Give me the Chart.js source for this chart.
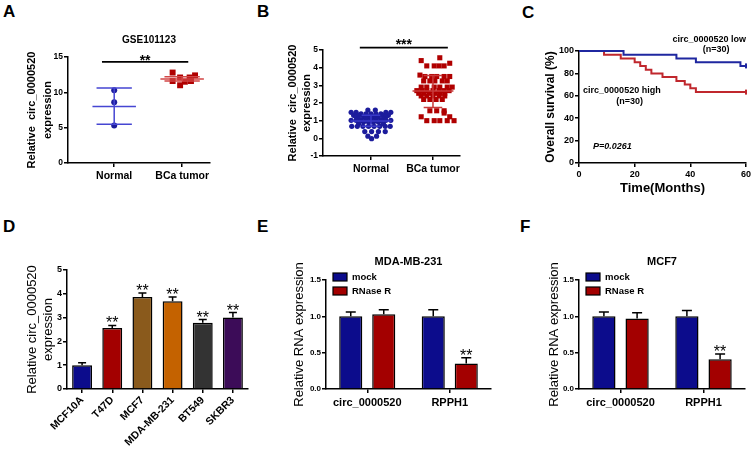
<!DOCTYPE html>
<html>
<head>
<meta charset="utf-8">
<script src="https://cdn.jsdelivr.net/npm/chart.js@4.4.0/dist/chart.umd.min.js"></script>
<style>
body{margin:0;background:#fff;width:753px;height:454px;position:relative;overflow:hidden;font-family:"Liberation Sans",Arial,sans-serif}
canvas{position:absolute}
.lab{position:absolute;font-weight:bold;font-size:17px;line-height:20px;color:#000}
</style>
</head>
<body>
<div class="lab" style="left:3px;top:2px">A</div>
<div class="lab" style="left:257px;top:2px">B</div>
<div class="lab" style="left:522px;top:3px">C</div>
<div class="lab" style="left:3px;top:217px">D</div>
<div class="lab" style="left:257px;top:217px">E</div>
<div class="lab" style="left:520px;top:217px">F</div>
<canvas id="cA"></canvas>
<canvas id="cB"></canvas>
<canvas id="cC"></canvas>
<canvas id="cD"></canvas>
<canvas id="cE"></canvas>
<canvas id="cF"></canvas>
<script>
var FONT = '"Liberation Sans", Arial, sans-serif';
Chart.defaults.font.family = FONT;
Chart.defaults.color = '#000';

// ---- data ----
var groups = ['Normal', 'BCa tumor'];

// A: GSE101123
var normalA = [10.3, 8.6, 5.3];
var normalAJitter = [0, 0, 0];
var tumorA = [12.8, 12.1, 12.1, 12.4, 11.6, 11.5, 11.6, 11.0];
var tumorAJitter = [-0.14, -0.03, 0.11, 0.19, -0.14, 0.04, 0.13, -0.03];
var meanA = [8.0, 11.9];
var sdA = [[5.5, 10.6], [11.6, 12.2]];

// B: cohort
var normalB = [1.6, 1.6, 1.47, 1.47, 1.47, 1.47, 1.38, 1.38, 1.38, 1.38, 1.38,
  1.3, 1.3, 1.3, 1.3, 1.22, 1.22, 1.22, 1.22, 1.22, 1.22, 1.12, 1.12, 1.12, 1.12, 1.12,
  1.02, 1.02, 1.02, 1.02, 1.02, 1.02, 1.02, 1.02, 1.02, 0.92, 0.92, 0.92, 0.92, 0.82, 0.82,
  0.68, 0.68, 0.68, 0.68, 0.68, 0.68, 0.68, 0.68, 0.38, 0.38, 0.38, 0.38, 0.12, 0.12, -0.02];
var normalBJitter = [-0.05, 0.07, -0.32, -0.24, 0.24, 0.32, -0.16, -0.08, 0, 0.08, 0.16,
  -0.28, -0.2, 0.2, 0.28, -0.24, -0.12, -0.04, 0.04, 0.12, 0.24, -0.2, -0.08, 0, 0.08, 0.2,
  -0.32, -0.24, -0.16, -0.08, 0, 0.08, 0.16, 0.24, 0.32, -0.12, -0.04, 0.04, 0.12, -0.2, 0.2,
  -0.31, -0.22, -0.13, -0.04, 0.05, 0.14, 0.23, 0.31, -0.1, 0.01, 0.12, 0.23, -0.05, 0.09, 0.01];
var tumorB = [4.56, 4.4, 4.25, 4.1, 4.1, 4.1, 4.1, 3.58, 3.5, 3.5, 3.5, 3.5, 3.5,
  3.25, 3.25, 3.25, 3.25, 3.25, 2.9, 2.9, 2.9, 2.9, 2.9, 2.9,
  2.7, 2.7, 2.7, 2.7, 2.7, 2.7, 2.7, 2.55, 2.55, 2.55, 2.55, 2.55, 2.55,
  2.4, 2.4, 2.4, 2.4, 2.4, 2.2, 2.2, 2.2, 2.2, 1.56, 1.56, 1.56, 1.43, 1.22, 1.22,
  1.0, 1.0, 1.0, 1.0, 1.0];
var tumorBJitter = [0.11, -0.19, 0.27, -0.1, 0.02, 0.1, 0.18, -0.21, -0.13, -0.02, 0.06, 0.18, 0.27,
  -0.15, -0.05, 0.03, 0.15, 0.23, -0.19, -0.1, 0.02, 0.11, 0.23, 0.31,
  -0.26, -0.18, -0.1, 0, 0.1, 0.18, 0.26, -0.23, -0.15, -0.06, 0.03, 0.11, 0.19,
  -0.19, -0.1, 0, 0.1, 0.19, -0.15, -0.05, 0.05, 0.15, -0.05, 0.06, 0.18, 0.18, -0.19, 0.27,
  -0.1, 0.02, 0.11, 0.23, 0.34];
var meanB = [0.98, 2.68];
var sdB = [[0.68, 1.3], [1.75, 3.55]];

// C: survival
var lowTime = [0, 16, 35, 42, 58, 60];
var lowSurv = [100, 96.7, 93.3, 90, 86.7, 86.7];
var highTime = [0, 9, 15, 20, 22, 24, 26, 30, 35, 38, 40, 42, 60];
var highSurv = [100, 96.7, 93.3, 90, 86.7, 83.3, 80, 76.7, 73.3, 70, 66.7, 63.3, 63.3];

// D: cell lines
var cells = ['MCF10A', 'T47D', 'MCF7', 'MDA-MB-231', 'BT549', 'SKBR3'];
var cellValues = [1.0, 2.56, 3.87, 3.69, 2.78, 3.0];
var cellSd = [0.1, 0.11, 0.16, 0.18, 0.14, 0.21];
var cellColors = ['#0c0c8c', '#a30000', '#8a5a1c', '#c46200', '#333333', '#3c0c58'];
var cellStars = ['', '**', '**', '**', '**', '**'];

// E / F: RNase R
var genes = ['circ_0000520', 'RPPH1'];
var mockE = [1.0, 1.0], mockESd = [0.06, 0.09];
var rnaseE = [1.03, 0.35], rnaseESd = [0.06, 0.08];
var mockF = [1.0, 1.0], mockFSd = [0.06, 0.08];
var rnaseF = [0.97, 0.41], rnaseFSd = [0.08, 0.07];
var geneStars = ['', '**'];

var BLUE = '#0c0c8c', RED = '#a30000';

// ---- helpers ----
function setup(id, box, area, cfg) {
  var cv = document.getElementById(id);
  cv.style.left = box[0] + 'px';
  cv.style.top = box[1] + 'px';
  cv.width = box[2];
  cv.height = box[3];
  cfg.options.responsive = false;
  cfg.options.animation = false;
  cfg.options.layout = {padding: {left: 0, top: area[1] - box[1], right: box[0] + box[2] - area[2], bottom: 0}};
  cfg.options.scales.x.afterFit = function (s) { s.height = box[1] + box[3] - area[3]; };
  cfg.options.scales.y.afterFit = function (s) { s.width = area[0] - box[0]; };
  cfg.options.plugins = Object.assign({legend: {display: false}, tooltip: {enabled: false}}, cfg.options.plugins || {});
  return new Chart(cv, cfg);
}

function axis(size, extra) {
  var a = {
    border: {display: true, color: '#000', width: 1.5},
    grid: {drawOnChartArea: false, drawTicks: true, tickLength: 4, color: '#000', lineWidth: 1.5, offset: false},
    ticks: {color: '#000', padding: 1, font: {size: size, weight: 'bold'}, maxRotation: 0, autoSkip: false}
  };
  for (var k in extra) {
    if (k === 'ticks' || k === 'grid') Object.assign(a[k], extra[k]);
    else a[k] = extra[k];
  }
  return a;
}

function groupAxis(names, min, max) {
  return axis(10.5, {
    type: 'linear', min: min, max: max,
    afterBuildTicks: function (s) { s.ticks = names.map(function (n, i) { return {value: i + 1}; }); },
    ticks: {padding: 3, callback: function (v) { return names[v - 1]; }}
  });
}

function points(values, jitter, center) {
  return values.map(function (v, i) { return {x: center + jitter[i], y: v}; });
}

function summary(chart, means, sds, colors, half, cap) {
  var x = chart.scales.x, y = chart.scales.y, ctx = chart.ctx;
  ctx.save();
  ctx.lineWidth = 1.5;
  means.forEach(function (m, i) {
    var c = i + 1;
    ctx.strokeStyle = colors[i];
    ctx.beginPath();
    ctx.moveTo(x.getPixelForValue(c - half), y.getPixelForValue(m));
    ctx.lineTo(x.getPixelForValue(c + half), y.getPixelForValue(m));
    ctx.moveTo(x.getPixelForValue(c), y.getPixelForValue(sds[i][0]));
    ctx.lineTo(x.getPixelForValue(c), y.getPixelForValue(sds[i][1]));
    sds[i].forEach(function (v) {
      ctx.moveTo(x.getPixelForValue(c - cap), y.getPixelForValue(v));
      ctx.lineTo(x.getPixelForValue(c + cap), y.getPixelForValue(v));
    });
    ctx.stroke();
  });
  ctx.restore();
}

function sigBar(chart, x0, x1, yv, text, dy) {
  var x = chart.scales.x, y = chart.scales.y, ctx = chart.ctx;
  var py = y.getPixelForValue(yv), a = x.getPixelForValue(x0), b = x.getPixelForValue(x1);
  ctx.save();
  ctx.strokeStyle = '#000';
  ctx.lineWidth = 1.8;
  ctx.beginPath();
  ctx.moveTo(a, py);
  ctx.lineTo(b, py);
  ctx.stroke();
  ctx.fillStyle = '#000';
  ctx.font = 'bold 14px ' + FONT;
  ctx.textAlign = 'center';
  ctx.textBaseline = 'alphabetic';
  ctx.fillText(text, (a + b) / 2, py + dy);
  ctx.restore();
}

function errorBars(chart, di, sd, cap, stars) {
  var meta = chart.getDatasetMeta(di), y = chart.scales.y, ctx = chart.ctx;
  var vals = chart.data.datasets[di].data;
  ctx.save();
  ctx.strokeStyle = '#000';
  ctx.lineWidth = 1.5;
  ctx.fillStyle = '#000';
  ctx.font = '16px ' + FONT;
  ctx.textAlign = 'center';
  ctx.textBaseline = 'alphabetic';
  meta.data.forEach(function (bar, i) {
    var top = y.getPixelForValue(vals[i] + sd[i]);
    ctx.beginPath();
    ctx.moveTo(bar.x, bar.y);
    ctx.lineTo(bar.x, top);
    ctx.moveTo(bar.x - cap, top);
    ctx.lineTo(bar.x + cap, top);
    ctx.stroke();
    if (stars && stars[i]) ctx.fillText(stars[i], bar.x, top + 3);
  });
  ctx.restore();
}

function text(ctx, s, x, y, font, align) {
  ctx.save();
  ctx.fillStyle = '#000';
  ctx.font = font + ' ' + FONT;
  ctx.textAlign = align || 'center';
  ctx.textBaseline = 'middle';
  ctx.fillText(s, x, y);
  ctx.restore();
}

function legendBox(chart, names, colors) {
  var ctx = chart.ctx, a = chart.chartArea;
  names.forEach(function (n, i) {
    var cy = a.top - 3 + i * 14;
    ctx.save();
    ctx.fillStyle = colors[i];
    ctx.strokeStyle = '#000';
    ctx.lineWidth = 1.2;
    ctx.fillRect(a.left + 7, cy - 4, 14, 8);
    ctx.strokeRect(a.left + 7, cy - 4, 14, 8);
    ctx.restore();
    text(ctx, n, a.left + 26, cy, 'bold 9.5px', 'left');
  });
}

// ---- A ----
setup('cA', [0, 20, 250, 195], [68, 57, 210, 163], {
  type: 'scatter',
  data: {datasets: [
    {data: points(normalA, normalAJitter, 1), pointStyle: 'circle', pointRadius: 3, backgroundColor: '#1c1c9c', borderWidth: 0},
    {data: points(tumorA, tumorAJitter, 2), pointStyle: 'rect', pointRadius: 4.2, backgroundColor: '#b00000', borderWidth: 0}
  ]},
  options: {scales: {
    x: groupAxis(groups, 0.32, 2.41),
    y: axis(8.5, {min: 0, max: 15, ticks: {stepSize: 5},
      title: {display: true, text: ['Relative  circ_0000520', 'expression'], font: {size: 11, weight: 'bold', lineHeight: 1.45}, padding: {top: 24, bottom: 0}}})
  }},
  plugins: [{id: 'annA', afterDatasetsDraw: function (c) {
    summary(c, meanA, sdA, ['#4646d2', '#d24646'], 0.32, 0.26);
    sigBar(c, 0.82, 2.09, 14.3, '**', 3);
    text(c.ctx, 'GSE101123', 149, 20, 'bold 10px');
  }}]
});

// ---- B ----
setup('cB', [250, 20, 250, 195], [323, 50, 460, 156], {
  type: 'scatter',
  data: {datasets: [
    {data: points(normalB, normalBJitter, 1), pointStyle: 'circle', pointRadius: 2.6, backgroundColor: '#1c1c9c', borderWidth: 0},
    {data: points(tumorB, tumorBJitter, 2), pointStyle: 'rect', pointRadius: 3.6, backgroundColor: '#b00000', borderWidth: 0}
  ]},
  options: {scales: {
    x: groupAxis(groups, 0.226, 2.436),
    y: axis(8.5, {min: -1, max: 5, ticks: {stepSize: 1},
      title: {display: true, text: ['Relative  circ_0000520', 'expression'], font: {size: 11, weight: 'bold', lineHeight: 1.3}, padding: {top: 36, bottom: 0}}})
  }},
  plugins: [{id: 'annB', afterDatasetsDraw: function (c) {
    summary(c, meanB, sdB, ['#3a3ac8', '#c83a3a'], 0.33, 0.15);
    sigBar(c, 0.82, 2.24, 5.13, '***', 1);
  }}]
});

// ---- C ----
function censorRadius(n) {
  return function (ctx) { return ctx.dataIndex === n - 1 ? 2.5 : 0; };
}
setup('cC', [500, 20, 253, 195], [579, 51, 747, 163], {
  type: 'line',
  data: {datasets: [
    {data: lowTime.map(function (t, i) { return {x: t, y: lowSurv[i]}; }),
      stepped: true, borderColor: '#1f27a0', borderWidth: 2, fill: false, clip: false,
      pointStyle: 'line', rotation: 90, pointRadius: censorRadius(lowTime.length), pointBorderColor: '#1f27a0', pointBorderWidth: 2},
    {data: highTime.map(function (t, i) { return {x: t, y: highSurv[i]}; }),
      stepped: true, borderColor: '#c0272d', borderWidth: 2, fill: false, clip: false,
      pointStyle: 'line', rotation: 90, pointRadius: censorRadius(highTime.length), pointBorderColor: '#c0272d', pointBorderWidth: 2}
  ]},
  options: {scales: {
    x: axis(9, {type: 'linear', min: 0, max: 60, ticks: {stepSize: 20, padding: 2},
      title: {display: true, text: 'Time(Months)', font: {size: 13, weight: 'bold'}, padding: {top: 0, bottom: 19}}}),
    y: axis(9, {min: 0, max: 100, ticks: {stepSize: 20},
      title: {display: true, text: 'Overall survival (%)', font: {size: 12, weight: 'bold'}, padding: {top: 43, bottom: 0}}})
  }},
  plugins: [{id: 'annC', afterDraw: function (c) {
    var x = c.scales.x, y = c.scales.y, ctx = c.ctx;
    text(ctx, 'circ_0000520 low', x.getPixelForValue(46.8), y.getPixelForValue(110), 'bold 9px');
    text(ctx, '(n=30)', x.getPixelForValue(49.3), y.getPixelForValue(101), 'bold 9px');
    text(ctx, 'circ_0000520 high', x.getPixelForValue(15.4), y.getPixelForValue(65), 'bold 9px');
    text(ctx, '(n=30)', x.getPixelForValue(18.2), y.getPixelForValue(55), 'bold 9px');
    text(ctx, 'P=0.0261', x.getPixelForValue(5), y.getPixelForValue(15), 'italic bold 9px', 'left');
  }}]
});

// ---- D ----
setup('cD', [0, 240, 250, 214], [67, 270, 248, 389], {
  type: 'bar',
  data: {labels: cells, datasets: [
    {data: cellValues, backgroundColor: cellColors, borderColor: '#000', borderWidth: 1.5, barPercentage: 0.66, categoryPercentage: 1}
  ]},
  options: {scales: {
    x: axis(10.5, {ticks: {minRotation: 45, maxRotation: 45, padding: 1}}),
    y: axis(9, {min: 0, max: 5, ticks: {stepSize: 1},
      title: {display: true, text: ['Relative circ_0000520', 'expression'], font: {size: 13, weight: 'normal', lineHeight: 1.23}, padding: {top: 24, bottom: 0}}})
  }},
  plugins: [{id: 'annD', afterDatasetsDraw: function (c) {
    errorBars(c, 0, cellSd, 4, cellStars);
  }}]
});

// ---- E / F ----
function rnasePanel(id, box, area, title, mock, mockSd, rnase, rnaseSd, titlePad) {
  setup(id, box, area, {
    type: 'bar',
    data: {labels: genes, datasets: [
      {label: 'mock', data: mock, backgroundColor: BLUE, borderColor: '#000', borderWidth: 1.5, barPercentage: 0.7, categoryPercentage: 0.8},
      {label: 'RNase R', data: rnase, backgroundColor: RED, borderColor: '#000', borderWidth: 1.5, barPercentage: 0.7, categoryPercentage: 0.8}
    ]},
    options: {scales: {
      x: axis(11, {ticks: {padding: 3}}),
      y: axis(8, {min: 0, max: 1.5, ticks: {stepSize: 0.5, callback: function (v) { return v.toFixed(1); }},
        title: {display: true, text: 'Relative RNA expression', font: {size: 13, weight: 'normal'}, padding: {top: titlePad, bottom: 0}}})
    }},
    plugins: [{id: 'ann' + id, afterDatasetsDraw: function (c) {
      errorBars(c, 0, mockSd, 5);
      errorBars(c, 1, rnaseSd, 5, geneStars);
      var a = c.chartArea;
      text(c.ctx, title, (a.left + a.right) / 2, 22, 'bold 11px');
      legendBox(c, ['mock', 'RNase R'], [BLUE, RED]);
    }}]
  });
}
rnasePanel('cE', [250, 240, 250, 214], [326, 280, 491, 389], 'MDA-MB-231', mockE, mockESd, rnaseE, rnaseESd, 42);
rnasePanel('cF', [500, 240, 253, 214], [579, 280, 745, 389], 'MCF7', mockF, mockFSd, rnaseF, rnaseFSd, 47);
</script>
</body>
</html>
